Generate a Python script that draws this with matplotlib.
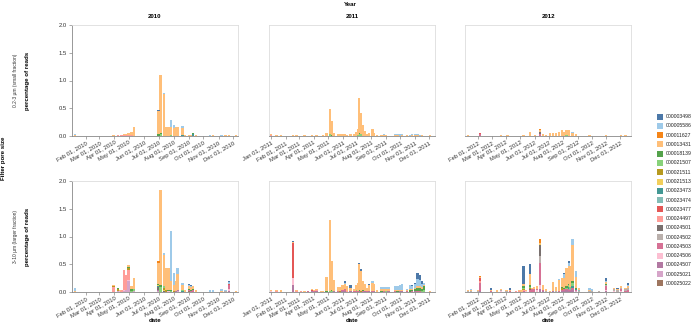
import matplotlib
matplotlib.use('Agg')
import matplotlib.pyplot as plt
import matplotlib.dates as mdates
from matplotlib.patches import Rectangle
import numpy as np
import pandas as pd

plt.rcParams['font.family'] = ['Liberation Sans', 'DejaVu Sans']

# legend order (top of stack = first id)
asv_ids = ['000003498', '000005586', '000011627', '000013431', '000018139',
           '000021507', '000021511', '000021513', '000023473', '000023474',
           '000023477', '000024497', '000024501', '000024502', '000024503',
           '000024506', '000024507', '000025021', '000025022']
asv_colors = ['#4c78a8', '#9ecae9', '#f58518', '#ffbf79', '#54a24b',
              '#88d27a', '#b79a20', '#f2cf5b', '#439894', '#83bcb6',
              '#e45756', '#ff9d98', '#79706e', '#bab0ac', '#d67195',
              '#fcbfd2', '#b279a2', '#d6a5c9', '#9e765f']

years = ['2010', '2011', '2012']
fractions = ['0.2-3 µm (small fraction)', '3-10 µm (larger fraction)']

# percentage of reads per sampling date, keyed by the last 5 digits of the ASV id
small_2010 = [
    ('2010-01-10', {'05586': .03, '13431': .01}),
    ('2010-03-30', {'13431': .01}),
    ('2010-04-08', {'24497': .01}),
    ('2010-04-16', {'24497': .02}),
    ('2010-04-21', {'13431': .01, '24497': .02}),
    ('2010-04-25', {'13431': .01, '24497': .02}),
    ('2010-04-30', {'13431': .03, '24497': .02}),
    ('2010-05-06', {'13431': .07, '24497': .01}),
    ('2010-05-11', {'13431': .17}),
    ('2010-07-01', {'03498': .02, '13431': .42, '18139': .03}),
    ('2010-07-05', {'13431': 1.05, '18139': .02, '21507': .03}),
    ('2010-07-12', {'05586': .02, '13431': .75}),
    ('2010-07-16', {'13431': .17}),
    ('2010-07-21', {'13431': .17}),
    ('2010-07-26', {'05586': .12, '13431': .16, '21507': .01}),
    ('2010-08-01', {'05586': .04, '13431': .15}),
    ('2010-08-05', {'13431': .17}),
    ('2010-08-09', {'13431': .16}),
    ('2010-08-19', {'05586': .03, '13431': .13, '23473': .02}),
    ('2010-08-24', {'13431': .02}),
    ('2010-09-01', {'13431': .01}),
    ('2010-09-05', {'13431': .02}),
    ('2010-09-09', {'18139': .02, '23473': .03}),
    ('2010-09-16', {'13431': .01}),
    ('2010-10-14', {'05586': .01}),
    ('2010-10-21', {'13431': .01}),
    ('2010-11-07', {'05586': .01}),
    ('2010-11-15', {'13431': .01}),
    ('2010-11-23', {'13431': .01}),
    ('2010-12-07', {'13431': .01}),
]

large_2010 = [
    ('2010-01-10', {'05586': .06, '13431': .01}),
    ('2010-03-30', {'13431': .03, '21511': .01, '24497': .09}),
    ('2010-04-08', {'18139': .02, '21511': .03, '25021': .02}),
    ('2010-04-12', {'24506': .02, '13431': .01}),
    ('2010-04-16', {'24497': .03}),
    ('2010-04-21', {'24497': .35, '24506': .02, '25021': .02}),
    ('2010-04-25', {'24497': .28, '25021': .03}),
    ('2010-04-30', {'13431': .04, '18139': .02, '21511': .03, '24497': .18, '24506': .02, '25021': .20}),
    ('2010-05-06', {'13431': .06, '18139': .03, '21507': .02}),
    ('2010-05-11', {'13431': .21, '21507': .03, '25021': .02}),
    ('2010-07-01', {'11627': .03, '13431': .38, '18139': .03, '21513': .01, '23473': .02,
                    '24501': .05, '24507': .02, '25021': .02}),
    ('2010-07-05', {'13431': 1.72, '18139': .03, '21507': .09}),
    ('2010-07-12', {'05586': .04, '13431': .56, '21507': .02, '21511': .05, '21513': .01, '24501': .02}),
    ('2010-07-16', {'13431': .40, '21511': .03}),
    ('2010-07-21', {'13431': .40, '18139': .02, '24506': .02}),
    ('2010-07-26', {'05586': .90, '13431': .17, '18139': .02, '21507': .01}),
    ('2010-08-01', {'05586': .22, '13431': .12, '21511': .01}),
    ('2010-08-05', {'13431': .18, '24507': .02}),
    ('2010-08-09', {'05586': .12, '13431': .28, '24507': .02, '25021': .02}),
    ('2010-08-19', {'05586': .03, '13431': .09, '21507': .02, '23473': .02}),
    ('2010-08-24', {'13431': .04}),
    ('2010-09-01', {'03498': .01, '05586': .02, '13431': .05, '18139': .02, '24503': .02, '25022': .02}),
    ('2010-09-05', {'03498': .01, '05586': .02, '13431': .05, '18139': .02, '24503': .02}),
    ('2010-09-09', {'13431': .05, '18139': .01, '23473': .01, '24503': .03}),
    ('2010-09-16', {'13431': .04}),
    ('2010-10-14', {'05586': .03}),
    ('2010-10-21', {'05586': .04}),
    ('2010-11-07', {'05586': .05, '13431': .01}),
    ('2010-11-15', {'05586': .03, '24502': .01}),
    ('2010-11-23', {'03498': .02, '05586': .03, '23477': .02, '24503': .08, '24506': .03, '24507': .02}),
    ('2010-12-07', {'13431': .02}),
]

small_2011 = [
    ('2011-01-01', {'13431': .02, '24497': .01}),
    ('2011-01-13', {'13431': .02}),
    ('2011-01-23', {'13431': .02}),
    ('2011-02-16', {'13431': .02}),
    ('2011-02-24', {'13431': .01}),
    ('2011-03-13', {'13431': .01}),
    ('2011-03-28', {'13431': .02}),
    ('2011-04-07', {'13431': .01}),
    ('2011-04-21', {'13431': .02}),
    ('2011-04-28', {'13431': .05}),
    ('2011-05-05', {'13431': .46, '21507': .03}),
    ('2011-05-10', {'13431': .26, '18139': .01}),
    ('2011-05-13', {'13431': .05}),
    ('2011-05-22', {'13431': .03}),
    ('2011-05-26', {'13431': .03}),
    ('2011-06-01', {'13431': .03}),
    ('2011-06-07', {'13431': .03}),
    ('2011-06-11', {'13431': .02}),
    ('2011-06-18', {'13431': .03}),
    ('2011-06-26', {'13431': .04}),
    ('2011-06-30', {'13431': .07}),
    ('2011-07-03', {'13431': .11, '21507': .02}),
    ('2011-07-06', {'13431': .62, '18139': .02, '21507': .04}),
    ('2011-07-10', {'13431': .38, '21507': .03}),
    ('2011-07-14', {'13431': .20}),
    ('2011-07-19', {'13431': .09}),
    ('2011-07-23', {'13431': .04}),
    ('2011-07-27', {'13431': .05}),
    ('2011-08-03', {'13431': .13}),
    ('2011-08-07', {'13431': .06}),
    ('2011-08-13', {'13431': .02}),
    ('2011-08-22', {'13431': .01}),
    ('2011-08-27', {'05586': .03, '13431': .01}),
    ('2011-09-01', {'13431': .01}),
    ('2011-09-20', {'05586': .03, '13431': .01}),
    ('2011-09-25', {'05586': .03, '13431': .01}),
    ('2011-09-30', {'05586': .03}),
    ('2011-10-05', {'05586': .03, '13431': .01}),
    ('2011-10-15', {'13431': .01}),
    ('2011-10-21', {'05586': .02}),
    ('2011-10-26', {'05586': .02, '13431': .01}),
    ('2011-11-01', {'05586': .02, '13431': .01}),
    ('2011-11-06', {'05586': .02, '13431': .01}),
    ('2011-11-12', {'05586': .02}),
    ('2011-11-16', {'13431': .01}),
    ('2011-12-03', {'13431': .01}),
]

large_2011 = [
    ('2011-01-01', {'13431': .02, '24506': .01}),
    ('2011-01-13', {'13431': .02, '24497': .01}),
    ('2011-01-23', {'13431': .03}),
    ('2011-02-16', {'03498': .01, '13431': .02, '23477': .62, '24497': .01, '24506': .13, '24507': .12}),
    ('2011-02-24', {'13431': .02, '24497': .01}),
    ('2011-03-05', {'13431': .01, '24497': .01}),
    ('2011-03-13', {'13431': .02}),
    ('2011-03-20', {'13431': .01, '24503': .01}),
    ('2011-03-28', {'13431': .02, '23477': .01, '24507': .02}),
    ('2011-04-02', {'13431': .02, '24503': .02}),
    ('2011-04-07', {'13431': .03, '24497': .02, '24507': .01}),
    ('2011-04-16', {'13431': .02}),
    ('2011-04-21', {'13431': .02}),
    ('2011-04-28', {'13431': .26, '18139': .01}),
    ('2011-05-05', {'13431': 1.28, '21507': .02}),
    ('2011-05-10', {'13431': .52, '18139': .02, '21507': .02}),
    ('2011-05-13', {'13431': .20, '24507': .02}),
    ('2011-05-22', {'13431': .08, '24503': .01}),
    ('2011-05-26', {'13431': .08, '21511': .01}),
    ('2011-06-01', {'13431': .08, '18139': .01, '24503': .01, '24507': .02}),
    ('2011-06-07', {'03498': .03, '05586': .02, '13431': .10, '24503': .03, '24507': .02}),
    ('2011-06-11', {'13431': .08, '24497': .02}),
    ('2011-06-18', {'03498': .05, '13431': .06, '24501': .01, '24507': .01}),
    ('2011-06-26', {'13431': .04, '24503': .01}),
    ('2011-06-30', {'13431': .10, '21507': .02, '24503': .01}),
    ('2011-07-03', {'13431': .15, '24503': .02}),
    ('2011-07-06', {'03498': .02, '13431': .46, '18139': .02, '24507': .02}),
    ('2011-07-10', {'03498': .03, '13431': .36, '21511': .02}),
    ('2011-07-14', {'13431': .17, '18139': .01, '24503': .02}),
    ('2011-07-19', {'13431': .12, '24507': .02}),
    ('2011-07-23', {'13431': .05, '24503': .02}),
    ('2011-07-27', {'03498': .02, '13431': .11, '24507': .02}),
    ('2011-08-03', {'05586': .02, '13431': .15, '24503': .02}),
    ('2011-08-07', {'13431': .13, '24507': .02}),
    ('2011-08-13', {'13431': .03}),
    ('2011-08-22', {'05586': .03, '13431': .05, '18139': .01}),
    ('2011-08-27', {'05586': .03, '13431': .05, '24503': .01}),
    ('2011-09-01', {'05586': .03, '13431': .05, '21507': .01}),
    ('2011-09-06', {'05586': .03, '13431': .05, '24507': .01}),
    ('2011-09-20', {'05586': .07, '13431': .02, '24503': .02}),
    ('2011-09-25', {'05586': .07, '13431': .02, '18139': .02}),
    ('2011-09-30', {'05586': .09, '13431': .02, '24507': .02}),
    ('2011-10-05', {'03498': .01, '05586': .11, '13431': .02, '24507': .01}),
    ('2011-10-15', {'05586': .03, '13431': .02, '24503': .01}),
    ('2011-10-21', {'05586': .07, '13431': .02, '18139': .03}),
    ('2011-10-26', {'03498': .02, '05586': .06, '13431': .02, '18139': .02, '24503': .01}),
    ('2011-11-01', {'03498': .02, '05586': .08, '13431': .02, '18139': .04, '24507': .01}),
    ('2011-11-06', {'03498': .10, '05586': .14, '13431': .03, '18139': .05, '24503': .02}),
    ('2011-11-12', {'03498': .08, '05586': .12, '13431': .03, '18139': .05, '24503': .02}),
    ('2011-11-16', {'03498': .04, '05586': .06, '13431': .03, '18139': .05, '21507': .01}),
    ('2011-11-20', {'05586': .04, '13431': .02, '18139': .08, '21507': .03}),
    ('2011-12-03', {'13431': .01}),
]

small_2012 = [
    ('2012-01-10', {'13431': .02}),
    ('2012-02-05', {'13431': .01, '23477': .02, '24503': .03}),
    ('2012-03-21', {'13431': .01}),
    ('2012-04-04', {'13431': .02}),
    ('2012-05-08', {'13431': .01}),
    ('2012-05-22', {'13431': .07}),
    ('2012-06-01', {'13431': .02}),
    ('2012-06-12', {'11627': .01, '13431': .03, '21511': .01, '24501': .03, '24503': .04}),
    ('2012-06-18', {'13431': .03}),
    ('2012-06-26', {'13431': .02}),
    ('2012-07-03', {'13431': .05}),
    ('2012-07-10', {'13431': .05}),
    ('2012-07-16', {'13431': .05}),
    ('2012-07-23', {'13431': .07}),
    ('2012-07-29', {'13431': .10}),
    ('2012-08-03', {'13431': .08}),
    ('2012-08-08', {'13431': .10, '21507': .01}),
    ('2012-08-13', {'13431': .10}),
    ('2012-08-21', {'05586': .02, '13431': .05}),
    ('2012-08-29', {'13431': .03}),
    ('2012-09-26', {'13431': .01}),
    ('2012-10-31', {'13431': .01}),
    ('2012-12-03', {'13431': .01}),
    ('2012-12-12', {'13431': .01}),
]

large_2012 = [
    ('2012-01-10', {'13431': .02, '24502': .01}),
    ('2012-01-17', {'05586': .02, '13431': .01, '24502': .02}),
    ('2012-01-31', {'13431': .01, '24502': .02}),
    ('2012-02-05', {'11627': .01, '13431': .02, '23477': .06, '24497': .03, '24503': .15, '24507': .01}),
    ('2012-02-28', {'03498': .03, '05586': .01, '13431': .02, '24503': .01}),
    ('2012-03-13', {'13431': .03}),
    ('2012-03-21', {'13431': .02, '24502': .02, '24506': .02}),
    ('2012-04-02', {'13431': .02, '24502': .01}),
    ('2012-04-10', {'03498': .03, '05586': .01, '13431': .01, '24503': .02}),
    ('2012-04-22', {'24497': .02}),
    ('2012-04-28', {'13431': .02, '24497': .01}),
    ('2012-05-04', {'13431': .04}),
    ('2012-05-08', {'03498': .31, '13431': .05, '18139': .03, '21507': .01, '21511': .02,
                    '24497': .02, '24503': .02}),
    ('2012-05-14', {'13431': .02, '24506': .02}),
    ('2012-05-22', {'03498': .18, '13431': .20, '18139': .03, '21507': .02, '21511': .02,
                    '24501': .02, '24503': .03}),
    ('2012-05-27', {'13431': .03, '24503': .05}),
    ('2012-05-31', {'13431': .04, '24503': .05}),
    ('2012-06-06', {'13431': .05, '24503': .03, '24506': .03}),
    ('2012-06-12', {'11627': .07, '13431': .02, '21513': .02, '24501': .20, '24502': .12,
                    '24503': .40, '24506': .06, '24507': .06}),
    ('2012-06-18', {'13431': .08, '24503': .02, '24507': .02}),
    ('2012-06-26', {'13431': .05, '24502': .01}),
    ('2012-07-03', {'13431': .02}),
    ('2012-07-10', {'13431': .16, '24507': .02}),
    ('2012-07-16', {'13431': .07, '24502': .02}),
    ('2012-07-23', {'05586': .01, '13431': .20, '24503': .02}),
    ('2012-07-29', {'13431': .16, '18139': .02, '21511': .03, '24503': .02, '24507': .02}),
    ('2012-08-03', {'03498': .01, '05586': .08, '13431': .18, '18139': .02, '24503': .03, '24507': .02}),
    ('2012-08-08', {'13431': .33, '18139': .03, '21507': .02, '24503': .03, '24507': .03}),
    ('2012-08-13', {'03498': .04, '05586': .05, '13431': .33, '18139': .02, '21507': .03,
                    '23473': .04, '24503': .03, '24507': .02}),
    ('2012-08-16', {'13431': .38, '21507': .03, '23474': .02, '24503': .02, '24507': .02}),
    ('2012-08-21', {'05586': .10, '13431': .66, '18139': .03, '21507': .06, '23473': .03,
                    '24503': .04, '24507': .03}),
    ('2012-08-29', {'05586': .10, '13431': .20, '18139': .02, '23473': .02, '24503': .02, '25021': .01}),
    ('2012-09-03', {'13431': .03, '23474': .02, '24502': .02}),
    ('2012-09-26', {'05586': .04, '13431': .02, '24502': .02}),
    ('2012-10-02', {'05586': .03, '24502': .02}),
    ('2012-10-17', {'24502': .02}),
    ('2012-10-31', {'03498': .05, '05586': .02, '13431': .03, '18139': .02, '24502': .03,
                    '24503': .06, '24506': .03, '24507': .01}),
    ('2012-11-18', {'13431': .02, '24502': .03, '24506': .02}),
    ('2012-11-25', {'03498': .02, '13431': .02, '24502': .03}),
    ('2012-12-03', {'13431': .03, '24502': .02, '24503': .03, '24506': .02}),
    ('2012-12-12', {'13431': .03, '24502': .03, '24503': .02}),
    ('2012-12-18', {'03498': .03, '05586': .02, '13431': .04, '24502': .03, '24503': .04}),
]

panels = [[small_2010, small_2011, small_2012], [large_2010, large_2011, large_2012]]
x_ranges = [('2010-01-04', '2010-12-11'), ('2010-12-28', '2011-12-13'), ('2012-01-04', '2012-12-24')]

W, H = 699, 335
fig = plt.figure(figsize=(W / 100, H / 100), dpi=100)

col_x = [72, 269, 465]
row_y = [25, 181]
pw, ph = 166, 111
grey = '#888888'
tick_fs = 4.2
title_fs = 4.4


def draw_panel(ax, bars):
    dates = pd.to_datetime([d for d, _ in bars])
    bottom = np.zeros(len(bars))
    # last id sits at the bottom of each stack
    for asv, col in zip(reversed(asv_ids), reversed(asv_colors)):
        vals = np.array([comp.get(asv[4:], 0.0) for _, comp in bars])
        if vals.sum() == 0:
            continue
        ax.bar(dates, vals, bottom=bottom, width=4.8, color=col, linewidth=0)
        bottom += vals


for r in range(2):
    for c in range(3):
        ax = fig.add_axes([col_x[c] / W, 1 - (row_y[r] + ph) / H, pw / W, ph / H])
        draw_panel(ax, panels[r][c])
        ax.set_xlim(pd.Timestamp(x_ranges[c][0]), pd.Timestamp(x_ranges[c][1]))
        ax.set_ylim(0, 2.0)
        for sp in ax.spines.values():
            sp.set_color('#dddddd')
            sp.set_linewidth(0.6)
        ax.spines['bottom'].set_color(grey)
        ax.xaxis.set_major_locator(mdates.MonthLocator())
        ax.xaxis.set_major_formatter(mdates.DateFormatter('%b %d, %Y'))
        ax.tick_params(axis='x', labelsize=tick_fs, length=2, width=0.5, color=grey,
                       labelcolor='#333333', pad=1)
        plt.setp(ax.get_xticklabels(), rotation=30, ha='right', rotation_mode='anchor')
        if c == 0:
            ax.set_yticks([0, 0.5, 1.0, 1.5, 2.0])
            ax.set_yticklabels(['0.0', '0.5', '1.0', '1.5', '2.0'])
            ax.tick_params(axis='y', labelsize=tick_fs, length=2, width=0.5, color=grey,
                           labelcolor='#333333', pad=1.5)
            ax.spines['left'].set_color(grey)
        else:
            ax.tick_params(axis='y', left=False, labelleft=False)

# titles, headers and legend in pixel coordinates
ov = fig.add_axes([0, 0, 1, 1])
ov.set_xlim(0, W)
ov.set_ylim(H, 0)
ov.axis('off')

ov.text(350, 4, 'Year', ha='center', va='center', fontsize=title_fs, fontweight='bold')
for c, yr in enumerate(years):
    ov.text(col_x[c] + pw / 2, 16, yr, ha='center', va='center', fontsize=title_fs, fontweight='bold')
    ov.text(col_x[c] + pw / 2, 321, 'date', ha='center', va='center', fontsize=title_fs,
            fontweight='bold')
for r, frac in enumerate(fractions):
    yc = row_y[r] + ph / 2
    ov.text(28, yc, 'percentage of reads', ha='center', va='center', rotation=90,
            fontsize=title_fs, fontweight='bold')
    ov.text(15, yc, frac, ha='center', va='center', rotation=90, fontsize=3.5, color='#333333')
ov.text(4, 158, 'Filter pore size', ha='center', va='center', rotation=90,
        fontsize=title_fs, fontweight='bold')

for i, (asv, col) in enumerate(zip(asv_ids, asv_colors)):
    y = 116.7 + i * 9.26
    ov.add_patch(Rectangle((656.5, y - 3), 6, 6, facecolor=col, edgecolor='none'))
    ov.text(666, y, asv, ha='left', va='center', fontsize=3.7, color='#222222')

fig.savefig('out.png', dpi=100)
